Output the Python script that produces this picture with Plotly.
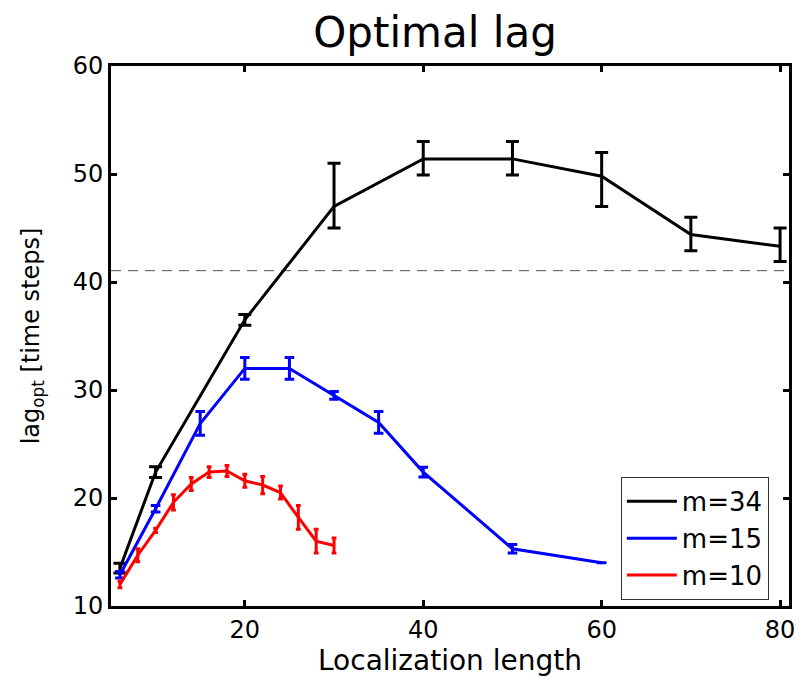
import plotly.graph_objects as go

# Localization length (x) and optimal lag with error half-widths, per ensemble size m
x_m34 = [6, 10, 20, 30, 40, 50, 60, 70, 80]
lag_m34 = [13.5, 22.4, 36.5, 47.0, 51.4, 51.4, 49.8, 44.4, 43.3]
err_m34_up = [0.45, 0.5, 0.5, 4.0, 1.6, 1.6, 2.2, 1.6, 1.7]
err_m34_dn = [0.45, 0.5, 0.5, 2.0, 1.5, 1.5, 2.8, 1.5, 1.4]

x_m15 = [6, 10, 15, 20, 25, 30, 35, 40, 50, 60]
lag_m15 = [12.9, 19.0, 26.9, 32.0, 32.0, 29.5, 27.0, 22.4, 15.3, 14.0]
err_m15 = [0.3, 0.3, 1.1, 1.0, 1.0, 0.35, 1.0, 0.45, 0.4, 0.0]

x_m10 = [6, 8, 10, 12, 14, 16, 18, 20, 22, 24, 26, 28, 30]
lag_m10 = [12.0, 14.7, 17.0, 19.6, 21.3, 22.4, 22.5, 21.6, 21.2, 20.5, 18.2, 16.0, 15.6]
err_m10 = [0.3, 0.6, 0.2, 0.7, 0.6, 0.5, 0.5, 0.6, 0.8, 0.6, 1.1, 1.1, 0.7]

reference_lag = 41.05

series_names = ["m=34", "m=15", "m=10"]
x_ticks = [20, 40, 60, 80]
y_ticks = [10, 20, 30, 40, 50, 60]

FONT = "DejaVu Sans"

fig = go.Figure()

fig.add_trace(go.Scatter(
    x=x_m34, y=lag_m34, mode="lines", name=series_names[0],
    line=dict(color="black", width=3),
    error_y=dict(type="data", symmetric=False, array=err_m34_up, arrayminus=err_m34_dn,
                 color="black", thickness=3, width=6.5),
))
fig.add_trace(go.Scatter(
    x=x_m15, y=lag_m15, mode="lines", name=series_names[1],
    line=dict(color="#0000ff", width=3),
    error_y=dict(type="data", array=err_m15, color="#0000ff", thickness=3, width=4.8),
))
fig.add_trace(go.Scatter(
    x=x_m10, y=lag_m10, mode="lines", name=series_names[2],
    line=dict(color="#ff0000", width=3),
    error_y=dict(type="data", array=err_m10, color="#ff0000", thickness=3, width=2.4),
))

fig.add_hline(y=reference_lag, line=dict(color="#555555", width=1, dash="10px,7px"), layer="below")

axis_common = dict(
    showline=True, linecolor="black", linewidth=3, mirror="ticks",
    ticks="inside", ticklen=6, tickwidth=2.5, tickcolor="black",
    showgrid=False, zeroline=False,
    tickfont=dict(family=FONT, size=24, color="black"),
)

fig.update_layout(
    width=804, height=680,
    margin=dict(l=111, r=9, t=66, b=74),
    paper_bgcolor="white", plot_bgcolor="white",
    title=dict(text="Optimal lag", x=435 / 804, xanchor="center", xref="container",
               y=1 - 32 / 680, yanchor="middle", yref="container",
               font=dict(family=FONT, size=42, color="black")),
    xaxis=dict(range=[5, 81], tickvals=x_ticks,
               title=dict(text="Localization length", standoff=2,
                          font=dict(family=FONT, size=28, color="black")),
               **axis_common),
    yaxis=dict(range=[10, 60], tickvals=y_ticks,
               title=dict(text="lag<sub>opt</sub> [time steps]", standoff=27,
                          font=dict(family=FONT, size=24, color="black")),
               **axis_common),
    legend=dict(x=0.752, y=0.239, xanchor="left", yanchor="top",
                bgcolor="white", bordercolor="#333333", borderwidth=1,
                font=dict(family=FONT, size=26, color="black"),
                itemwidth=50, tracegroupgap=0),
    showlegend=True,
)

fig.write_html("out.html")
